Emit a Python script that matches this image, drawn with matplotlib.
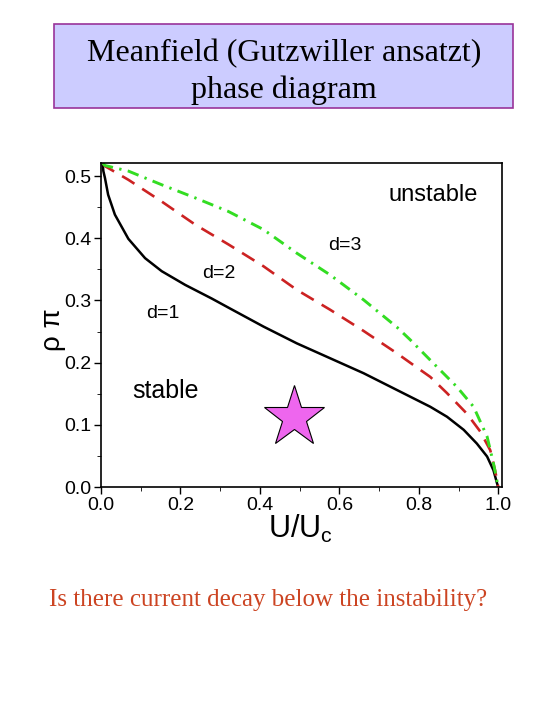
import matplotlib.pyplot as plt
import numpy as np
from matplotlib.patches import Rectangle
from matplotlib.ticker import MultipleLocator

# values
u_d1 = [0.004, 0.006, 0.010, 0.018, 0.035, 0.069, 0.111, 0.153, 0.212, 0.279, 0.325, 0.409, 0.493,
        0.577, 0.661, 0.745, 0.829, 0.871, 0.913, 0.946, 0.972, 0.988, 0.997, 1.0]
rho_d1 = [0.521, 0.508, 0.497, 0.470, 0.438, 0.399, 0.368, 0.347, 0.325, 0.303, 0.287, 0.258, 0.231,
          0.207, 0.183, 0.156, 0.129, 0.113, 0.092, 0.070, 0.049, 0.027, 0.006, 0.0]

u_d2 = [0.004, 0.010, 0.069, 0.153, 0.237, 0.321, 0.409, 0.493, 0.577, 0.661, 0.745, 0.778, 0.829,
        0.871, 0.921, 0.955, 0.980, 0.992, 1.0]
rho_d2 = [0.521, 0.516, 0.494, 0.459, 0.422, 0.390, 0.355, 0.317, 0.285, 0.251, 0.215, 0.200, 0.177,
          0.151, 0.118, 0.089, 0.059, 0.027, 0.0]

u_d3 = [0.004, 0.010, 0.069, 0.153, 0.237, 0.321, 0.409, 0.493, 0.577, 0.661, 0.745, 0.778, 0.829,
        0.896, 0.938, 0.972, 0.988, 1.0]
rho_d3 = [0.521, 0.517, 0.508, 0.486, 0.465, 0.443, 0.414, 0.376, 0.341, 0.301, 0.257, 0.237, 0.204,
          0.161, 0.129, 0.081, 0.038, 0.0]

star_u, star_rho = 0.486, 0.113

plt.rcParams['font.family'] = ['Liberation Sans', 'DejaVu Sans']
plt.rcParams['mathtext.default'] = 'regular'

fig = plt.figure(figsize=(5.4, 7.2), dpi=100)
ax = fig.add_axes([0.187, 0.3236, 0.743, 0.45])

ax.plot(u_d1, rho_d1, color='black', lw=1.8)
ax.plot(u_d2, rho_d2, color='#cc2222', lw=1.9, ls=(0, (5.5, 3.5)))
ax.plot(u_d3, rho_d3, color='#33dd22', lw=2.1, ls=(0, (4, 2.2, 0.8, 2.2)))
ax.plot(star_u, star_rho, marker='*', ms=46, mfc='#ee66ee', mec='black', mew=0.8)

ax.text(0.836, 0.47, 'unstable', fontsize=17, ha='center', va='center')
ax.text(0.614, 0.388, 'd=3', fontsize=14, ha='center', va='center')
ax.text(0.297, 0.344, 'd=2', fontsize=14, ha='center', va='center')
ax.text(0.155, 0.279, 'd=1', fontsize=14, ha='center', va='center')
ax.text(0.163, 0.155, 'stable', fontsize=18, ha='center', va='center')

ax.set_xlim(0, 1.01)
ax.set_ylim(0, 0.521)
ax.xaxis.set_major_locator(MultipleLocator(0.2))
ax.xaxis.set_minor_locator(MultipleLocator(0.1))
ax.yaxis.set_major_locator(MultipleLocator(0.1))
ax.yaxis.set_minor_locator(MultipleLocator(0.05))
ax.xaxis.set_major_formatter(plt.FuncFormatter(lambda v, p: f'{v:.1f}'))
ax.yaxis.set_major_formatter(plt.FuncFormatter(lambda v, p: f'{v:.1f}'))
ax.tick_params(labelsize=14, direction='out', length=5, width=1, pad=2)
ax.tick_params(which='minor', length=3)
for s in ax.spines.values():
    s.set_linewidth(1.2)

fig.text(0.556, 0.266, 'U/U$_{c}$', fontsize=22, ha='center', va='center')
fig.text(0.098, 0.542, 'ρ π', fontsize=20, rotation=90, ha='center', va='center')

# title box
fig.patches.append(Rectangle((54 / 540, 1 - 108 / 720), 459 / 540, 84 / 720,
                             transform=fig.transFigure, facecolor='#ccccff',
                             edgecolor='#993399', lw=1.2))
fig.text(0.526, 1 - 72 / 720, 'Meanfield (Gutzwiller ansatzt)\nphase diagram',
         fontsize=23, ha='center', va='center', family='Liberation Serif',
         linespacing=1.3)

fig.text(0.497, 1 - 600 / 720, 'Is there current decay below the instability?',
         fontsize=18, ha='center', va='center', family='Liberation Serif',
         color='#cc4422')

fig.savefig('out.png', dpi=100)
